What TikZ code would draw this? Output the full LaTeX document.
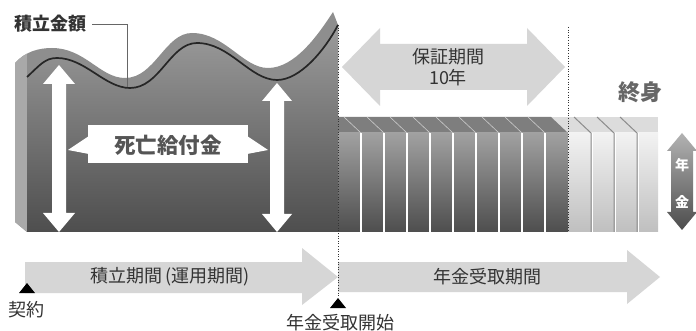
\documentclass[tikz,border=0pt]{standalone}
\usepackage{fontspec}
\setmainfont{Noto Sans CJK JP}
\definecolor{bandgray}{HTML}{8E8E8E}
\definecolor{sidegray}{HTML}{A9A9A9}
\definecolor{facetop}{HTML}{9C9C9C}
\definecolor{facebot}{HTML}{4E4E4E}
\definecolor{lightarrow}{HTML}{D6D6D6}
\definecolor{txtdark}{HTML}{333333}
\definecolor{txtmid}{HTML}{555555}
\definecolor{txtlight}{HTML}{666666}
\definecolor{darktop}{HTML}{7E7E7E}
\definecolor{lighttop}{HTML}{DCDCDC}
\begin{document}
\begin{tikzpicture}[x=1pt,y=-1pt,
  txtbase/.style={inner sep=1pt, font=\fontsize{18}{20}\selectfont, text=txtdark},
  txtbold/.style={inner sep=1pt, font=\bfseries\fontsize{18}{20}\selectfont, text=txtdark},
  leader/.style={draw=txtlight, line width=0.7pt},
  dotline/.style={draw=txtdark, line width=0.9pt, dash pattern=on 1pt off 1.6pt},
  blockarrow/.style={fill=lightarrow},
  whiteshape/.style={fill=white},
  marker/.style={fill=black}]
\useasboundingbox[fill=white] (0,0) rectangle (696,331);

% ---------- accumulation block ----------
\begin{scope}
\clip (15,222) -- (15,63) .. controls (25,52) and (38,48) .. (52,48)
  .. controls (85,48) and (100,78) .. (125,78)
  .. controls (155,78) and (165,33) .. (192,33)
  .. controls (225,33) and (243,68) .. (268,68)
  .. controls (295,68) and (318,35) .. (333,12) -- (338,25) -- (338,232) -- (27,232) -- cycle;
\fill[bandgray] (0,0) rectangle (340,240);
\fill[sidegray] (10,0) rectangle (27,240);
\end{scope}
\shade[top color=facetop, bottom color=facebot]
  (27,77) .. controls (40,65) and (45,58) .. (57,58)
  .. controls (85,58) and (105,88) .. (130,88)
  .. controls (160,88) and (170,43) .. (197,43)
  .. controls (230,43) and (250,80) .. (277,80)
  .. controls (300,80) and (325,50) .. (338,25) -- (338,232) -- (27,232) -- cycle;
\draw[line width=1.7pt, black!85]
  (27,77) .. controls (40,65) and (45,58) .. (57,58)
  .. controls (85,58) and (105,88) .. (130,88)
  .. controls (160,88) and (170,43) .. (197,43)
  .. controls (230,43) and (250,80) .. (277,80)
  .. controls (300,80) and (325,50) .. (338,25);

% white vertical double arrows
\fill[whiteshape] (59,65) -- (75,84) -- (66,84) -- (66,213) -- (75,213) -- (59,232)
  -- (43,213) -- (52,213) -- (52,84) -- (43,84) -- cycle;
\fill[whiteshape] (277,83) -- (292,101) -- (284,101) -- (284,214) -- (292,214) -- (277,232)
  -- (262,214) -- (270,214) -- (270,101) -- (262,101) -- cycle;
% death benefit label
\fill[whiteshape] (88,125) rectangle (248,163);
\fill[whiteshape] (89,136) -- (68,150) -- (89,154) -- cycle;
\fill[whiteshape] (247,136) -- (268,150) -- (247,154) -- cycle;
\node[txtbold, text=txtmid, font=\bfseries\fontsize{21.5}{22}\selectfont] (shibo) at (168,145) {死亡給付金};

% accumulation label + leader
\node[txtbold, font=\bfseries\fontsize{18}{20}\selectfont] (tsumi) at (50,24) {積立金額};
\coordinate (trough) at (127,87);
\draw[leader] ([xshift=5pt]tsumi.east) -| (trough);

% ---------- guarantee arrow ----------
\fill[blockarrow] (342,67) -- (380,28) -- (380,44) -- (527,44) -- (527,28) -- (565,67)
  -- (527,106) -- (527,90) -- (380,90) -- (380,106) -- cycle;
\node[txtbase] (hosho) at (448,57) {保証期間};
\node[txtbase] (ten) at (448,78) {10年};

% ---------- pension bars ----------
\fill[lighttop] (551,117) rectangle (658,133);
\fill[darktop] (338,117) -- (551,117) -- (568,133) -- (338,133) -- cycle;
\shade[top color=facetop!95!white, bottom color=facebot] (338,133) rectangle (568,232);
\shade[top color=white!95!black, bottom color=white!75!black] (568,133) rectangle (658,232);
\foreach \x in {361,384,407,430,453,476,499,522,545}{
  \draw[white!60!darktop, line width=0.6pt] (\x-17,117) -- (\x,133);
  \draw[white, line width=1.6pt] (\x,133) -- (\x,232);
}
\foreach \x in {591,614,637}{
  \draw[white!55!black, line width=1pt] (\x-17,117) -- (\x,133) -- (\x,232);
  \draw[white, line width=1.2pt] (\x+1.2,133) -- (\x+1.2,232);
}
\draw[white, line width=1.2pt] (27,232.6) -- (658,232.6);

\node[txtbold, text=txtlight, font=\bfseries\fontsize{22}{24}\selectfont] (shushin) at (640,92) {終身};

% small pension arrow
\shade[top color=white!70!black, bottom color=white!30!black]
  (682,133) -- (697,151) -- (693,151) -- (693,212) -- (697,212) -- (682,230)
  -- (667,212) -- (671,212) -- (671,151) -- (667,151) -- cycle;
\node[txtbold, text=white, font=\bfseries\fontsize{14}{16}\selectfont] (nen) at (682,165) {年};
\node[txtbold, text=white, font=\bfseries\fontsize{14}{16}\selectfont] (kin) at (682,202) {金};

% ---------- timeline ----------
\fill[blockarrow] (25,262) -- (302,262) -- (302,248) -- (338,277) -- (302,305) -- (302,293)
  -- (25,293) -- cycle;
\fill[blockarrow] (338,262) -- (627,262) -- (627,250) -- (660,277) -- (627,304) -- (627,292)
  -- (338,292) -- cycle;
\node[txtbase] (accper) at (170,277) {積立期間\hspace{3pt}(運用期間)};
\node[txtbase] (penper) at (487,277) {年金受取期間};

\draw[dotline] (338,25) -- (338,298);
\draw[dotline] (568,27) -- (568,232);

\fill[marker] (19,293) -- (35,293) -- (27,283) -- cycle;
\fill[marker] (330,308) -- (346,308) -- (338,298) -- cycle;
\node[txtbase] (keiyaku) at (27,310) {契約};
\node[txtbase] (start) at (340,323) {年金受取開始};
\end{tikzpicture}
\end{document}
